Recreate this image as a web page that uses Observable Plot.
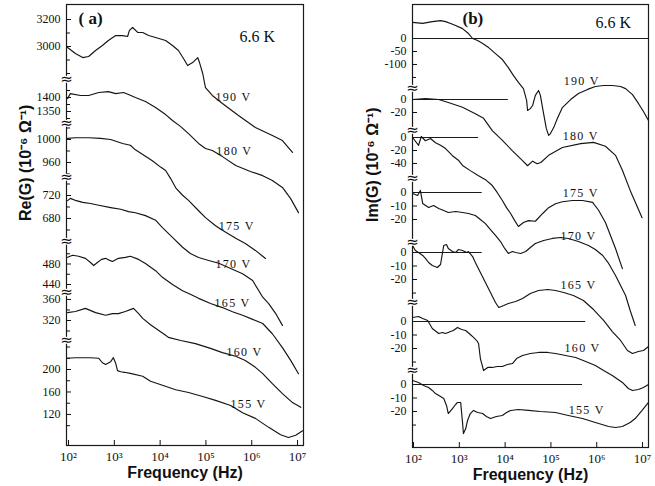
<!DOCTYPE html>
<html><head><meta charset="utf-8">
<script src="https://cdn.jsdelivr.net/npm/d3@7"></script>
<script src="https://cdn.jsdelivr.net/npm/@observablehq/plot@0.6"></script>
<style>
body{margin:0;background:#fff;}
#wrap{display:flex;width:655px;height:486px;overflow:hidden;}
.clab text{letter-spacing:1.3px;}
</style></head><body><div id="wrap"></div>
<script>
// ---- DATA: [log10(frequency in Hz), value in 1e-6 S] ----
const voltages = ["190 V","180 V","175 V","170 V","165 V","160 V","155 V"];
const decades = [2,3,4,5,6,7];

// Panel (a) Re(G)
const re190 = [[1.98,2993],[2.15,2948],[2.31,2918],[2.44,2926],[2.59,2970],[2.74,3007],[2.87,3044],[3.03,3081],[3.18,3081],[3.29,3074],[3.33,3119],[3.40,3141],[3.51,3104],[3.62,3104],[3.75,3081],[3.90,3067],[4.12,3044],[4.27,3007],[4.40,2970],[4.51,2911],[4.60,2859],[4.71,2881],[4.82,2918],[4.86,2881],[4.93,2800],[4.99,2696],[5.14,2637],[5.36,2578],[5.71,2489],[6.08,2400],[6.45,2341],[6.67,2303],[6.89,2215]];
const re180 = [[1.98,1396],[2.04,1414],[2.26,1407],[2.44,1407],[2.66,1418],[2.87,1421],[3.03,1414],[3.20,1418],[3.31,1411],[3.46,1400],[3.68,1386],[3.90,1364],[4.12,1339],[4.27,1318],[4.45,1296],[4.62,1271],[4.84,1236],[4.99,1218],[5.14,1211],[5.36,1189],[5.65,1157],[5.97,1136],[6.24,1121],[6.45,1104],[6.67,1079],[6.85,1039],[7.02,989]];
const re175 = [[1.98,1002],[2.15,1003],[2.44,1003],[2.70,1002],[2.92,1000],[3.18,993],[3.35,990],[3.46,982],[3.68,971],[3.83,963],[4.01,952],[4.12,946],[4.23,932],[4.34,916],[4.49,903],[4.62,894],[4.84,876],[4.99,864],[5.21,850],[5.36,842],[5.65,828],[5.86,819],[6.08,807],[6.30,793]];
const re170 = [[1.98,711],[2.04,715],[2.17,711],[2.31,708],[2.48,706],[2.66,703],[2.92,699],[3.14,696],[3.31,692],[3.46,690],[3.68,685],[3.90,677],[4.05,664],[4.27,647],[4.49,630],[4.66,619],[4.84,612],[5.06,607],[5.28,602],[5.54,593],[5.80,584],[6.02,572],[6.24,543],[6.37,532],[6.52,515],[6.67,494]];
const re165 = [[1.98,493],[2.09,497],[2.22,495],[2.37,491],[2.48,483],[2.55,477],[2.63,483],[2.72,489],[2.81,491],[2.90,487],[2.96,485],[3.09,491],[3.24,493],[3.35,495],[3.53,489],[3.68,481],[3.90,467],[4.05,454],[4.27,440],[4.49,428],[4.66,421],[4.84,413],[5.10,403],[5.36,395],[5.58,387],[5.80,380],[6.02,372],[6.24,364],[6.45,344],[6.67,317],[6.85,292],[7.02,266]];
const re160 = [[1.98,335],[2.15,337],[2.37,343],[2.59,335],[2.81,330],[2.96,333],[3.09,333],[3.24,337],[3.42,343],[3.53,333],[3.62,324],[3.79,312],[3.97,301],[4.12,292],[4.18,288],[4.45,282],[4.77,276],[5.10,267],[5.36,259],[5.65,252],[5.86,244],[6.08,231],[6.24,219],[6.45,200],[6.67,181],[6.89,164],[7.07,155]];
const re155 = [[1.98,220],[2.15,221],[2.31,221],[2.48,221],[2.66,220],[2.74,212],[2.81,209],[2.92,214],[2.98,221],[3.03,211],[3.07,198],[3.14,196],[3.22,195],[3.35,193],[3.62,188],[3.79,179],[4.05,172],[4.34,164],[4.62,159],[4.93,152],[5.21,145],[5.54,136],[5.80,123],[6.08,113],[6.37,97],[6.63,84],[6.80,79],[6.96,83],[7.11,91]];

// Panel (b) Im(G)
const im190 = [[1.98,62],[2.20,58],[2.41,65],[2.59,69],[2.70,65],[2.81,58],[2.92,50],[3.07,38],[3.20,19],[3.29,0],[3.40,-8],[3.51,-19],[3.64,-35],[3.79,-58],[3.94,-81],[4.07,-112],[4.18,-142],[4.29,-169],[4.40,-193],[4.47,-239],[4.49,-277],[4.55,-270],[4.60,-258],[4.66,-219],[4.73,-200],[4.77,-219],[4.84,-289],[4.90,-347],[4.95,-373],[4.99,-366],[5.06,-343],[5.14,-308],[5.25,-266],[5.43,-235],[5.60,-212],[5.80,-196],[5.97,-185],[6.15,-181],[6.34,-181],[6.52,-185],[6.63,-193],[6.78,-216],[6.91,-250],[7.02,-281],[7.13,-316]];
const im180 = [[1.98,0],[2.26,1.5],[2.55,0],[2.76,-4.6],[3.07,-12],[3.35,-22],[3.53,-29],[3.72,-48],[3.94,-63],[4.16,-79],[4.38,-94],[4.49,-102],[4.60,-95],[4.70,-99],[4.78,-97],[4.95,-86],[5.25,-74],[5.65,-68],[5.93,-66],[6.19,-72],[6.41,-86],[6.56,-109],[6.73,-140],[6.99,-182]];
const im175 = [[1.98,0],[2.11,-12],[2.17,1.5],[2.26,-5],[2.37,-1.5],[2.48,-8],[2.59,-12],[2.70,-17],[2.85,-28],[2.98,-35],[3.07,-43],[3.24,-51],[3.42,-59],[3.59,-66],[3.72,-74],[3.83,-85],[3.94,-97],[4.03,-108],[4.12,-117],[4.21,-128],[4.29,-137],[4.40,-131],[4.51,-128],[4.66,-129],[4.82,-117],[4.95,-108],[5.10,-102],[5.25,-99],[5.47,-97],[5.69,-97],[5.91,-100],[6.04,-112],[6.19,-131],[6.30,-151],[6.41,-171],[6.56,-202]];
const im170 = [[1.98,-0.7],[2.09,-2.2],[2.15,1.5],[2.20,-8.1],[2.33,-11.1],[2.44,-9.6],[2.55,-11.8],[2.66,-13.3],[2.76,-14.8],[2.92,-14.1],[3.07,-14.8],[3.20,-15.5],[3.35,-17],[3.46,-20],[3.57,-23],[3.68,-27.4],[3.79,-31.8],[3.90,-36.3],[3.99,-41.4],[4.07,-45.1],[4.16,-43.7],[4.23,-44.4],[4.34,-45.1],[4.45,-43.7],[4.55,-40.7],[4.66,-37.7],[4.84,-35.5],[5.03,-34],[5.21,-33.3],[5.38,-34],[5.60,-36.3],[5.82,-39.2],[5.97,-42.2],[6.13,-46.6],[6.26,-52.5],[6.41,-61.4],[6.52,-68.8],[6.63,-76.2],[6.73,-87.3],[6.84,-98.4]];
const im165 = [[1.98,5.2],[2.04,1.5],[2.11,0],[2.20,-2.2],[2.26,-4.4],[2.33,-7.4],[2.41,-9.6],[2.52,-11.1],[2.59,-8.9],[2.66,5.2],[2.72,5.9],[2.76,3],[2.85,0.7],[2.92,0],[2.98,2.2],[3.07,1.5],[3.16,0],[3.20,0.7],[3.29,-3],[3.35,-7.4],[3.46,-14.8],[3.57,-22.2],[3.68,-29.6],[3.79,-37],[3.86,-40.7],[3.97,-39.2],[4.07,-37.7],[4.23,-36.3],[4.38,-34],[4.55,-30.3],[4.73,-28.1],[4.93,-27.4],[5.10,-28.1],[5.28,-29.6],[5.49,-31.8],[5.71,-35.5],[5.93,-42.2],[6.15,-50.3],[6.34,-58.5],[6.52,-65.1],[6.67,-72.5],[6.78,-74.7],[6.91,-73.3],[7.02,-72.5],[7.13,-69.6]];
const im160 = [[1.98,3],[2.11,3.7],[2.20,2.2],[2.31,0.7],[2.41,-5.2],[2.55,-8.9],[2.63,-8.1],[2.70,-8.9],[2.81,-7.4],[2.87,-6.7],[2.96,-4.4],[3.05,-5.9],[3.14,-6.7],[3.24,-9.6],[3.31,-11.8],[3.38,-14.1],[3.42,-16.3],[3.46,-27.4],[3.53,-36.3],[3.62,-34],[3.72,-34],[3.83,-33.3],[3.94,-33.3],[4.05,-31.8],[4.16,-31.1],[4.25,-27.4],[4.38,-25.2],[4.55,-23.7],[4.73,-22.9],[4.93,-22.9],[5.10,-23.7],[5.32,-25.2],[5.54,-26.6],[5.76,-29.6],[5.97,-32.6],[6.15,-36.3],[6.34,-40],[6.56,-45.1],[6.69,-49.6],[6.78,-51.1],[6.91,-50.3],[7.02,-48.8],[7.13,-46.6]];
const im155 = [[1.98,3],[2.11,1.5],[2.22,-0.7],[2.33,-2.2],[2.41,-4.4],[2.48,-6.7],[2.59,-8.9],[2.66,-10.4],[2.72,-15.5],[2.76,-21.5],[2.85,-17.8],[2.92,-14.8],[2.96,-13.3],[3.03,-13.3],[3.07,-28.1],[3.09,-36.3],[3.14,-32.6],[3.18,-26.6],[3.24,-21.5],[3.31,-19.2],[3.40,-20.7],[3.51,-21.5],[3.59,-23.7],[3.68,-25.2],[3.81,-23.7],[3.94,-22.9],[4.03,-20.7],[4.12,-19.2],[4.29,-18.5],[4.51,-19.2],[4.77,-20],[5.10,-20.7],[5.38,-22.9],[5.69,-25.2],[5.97,-28.1],[6.26,-31.1],[6.41,-31.8],[6.56,-31.1],[6.73,-28.1],[6.84,-25.2],[6.99,-19.2],[7.13,-13.3]];

// Axis tick labels (value units of each stacked segment)
const reTickLabels = [[3200,3000],[1400,1350],[1000,960],[720,680],[480,440],[360,320],[200,160,120]];
const reMinorTicks = [[3100,2900,2800],[1425,1375,1325],[1020,980,940],[740,700,660],[500,460],[340,300],[240,220,180,140,100]];
const imTickLabels = [[0,-50,-100],[0,-20],[0,-20,-40],[0,-10,-20],[0,-10,-20],[0,-10,-20],[0,-10,-20]];
const imMinorTicks = [[-150],[],[],[],[-30],[-30],[-30]];
// zero reference lines in (b): log10 of the frequency where each ends
const imZeroEnds = [7.13,4.07,3.42,3.5,3.5,5.76,5.69];
// curve label anchors: [log10 f, value]
const reLabelAt = [[5.60,2622],[5.62,1207],[5.67,849],[5.60,600],[5.58,403],[5.84,259],[5.93,138]];
const imLabelAt = [[5.67,-166],[5.65,-57],[5.65,-86],[5.60,-32],[5.60,-24],[5.69,-20],[5.78,-19]];

// ---- LAYOUT (stacked, broken axes): [anchor value, anchor row, units per px] ----
const reMaps = [[3000,46,7.41],[1400,97,3.57],[1000,139,1.74],[720,195,1.74],[480,263.5,1.95],[320,320,1.9],[200,369,1.78]];
const imMaps = [[0,38,3.85],[0,99,1.54],[0,137,1.54],[0,192,0.74],[0,252,0.74],[0,321,0.74],[0,384,0.74]];
const reBreaks = [79,123,177,241,292,340];
const imBreaks = [88,130,178,242,302,370];

const SUP = {"2":"²","3":"³","4":"⁴","5":"⁵","6":"⁶","7":"⁷"};
const SERIF = "Liberation Serif, Times New Roman, serif";
const SANS = "Liberation Sans, Arial, sans-serif";

function makePanel(o) {
  const H = 486, mt = 4;
  const row = (i, v) => o.maps[i][1] - (v - o.maps[i][0]) / o.maps[i][2];
  const lineData = o.series.flatMap((pts, i) => pts.map(([lf, v]) => ({i, f: 10 ** lf, r: row(i, v)})));
  const major = o.tickLabels.flatMap((vals, i) => vals.map(v => ({r: row(i, v), t: String(v)})));
  const minor = o.minorTicks.flatMap((vals, i) => vals.map(v => row(i, v)));
  const fmt = new Map(major.map(d => [d.r, d.t]));
  const labels = o.labelAt.map(([lf, v], i) => ({f: 10 ** lf, r: row(i, v), t: voltages[i]}));
  const marks = [
    Plot.frame({stroke: "#1a1a1a", strokeWidth: 1.2}),
    Plot.axisX({ticks: decades.map(d => 10 ** d), tickFormat: d => "10" + SUP[Math.round(Math.log10(d))],
      tickSize: -5, tickPadding: 11, fontSize: 13, label: null}),
    Plot.axisY({ticks: major.map(d => d.r), tickFormat: r => fmt.get(r), tickSize: -5, tickPadding: 11, fontSize: 12, label: null}),
    Plot.axisY({ticks: minor, tickFormat: () => "", tickSize: -4, label: null})
  ];
  if (o.zeroEnds) {
    marks.push(Plot.ruleY(o.zeroEnds.map((e, i) => ({r: row(i, 0), e: 10 ** e})),
      {y: "r", x1: () => o.xDomain[0], x2: "e", stroke: "#1a1a1a", strokeWidth: 1}));
  }
  marks.push(
    Plot.line(lineData, {x: "f", y: "r", z: "i", stroke: "#141414", strokeWidth: 1.15}),
    Plot.text(o.breaks, {y: d => d, frameAnchor: "left", textAnchor: "middle", text: () => "≈", fontSize: 15, fontFamily: "DejaVu Sans",
      fill: "#111", stroke: "white", strokeWidth: 2.5, paintOrder: "stroke"}),
    Plot.text(labels, {x: "f", y: "r", text: "t", fontSize: 12, fontFamily: SERIF, fill: "#111", className: "clab"}),
    Plot.text([o.tag], {frameAnchor: "top-left", dx: o.tagDx, dy: 14, lineAnchor: "middle", textAnchor: "start",
      fontSize: 17, fontWeight: "bold", fontFamily: SERIF, fill: "#111"}),
    Plot.text(["6.6 K"], {frameAnchor: "top-left", dx: o.tempDx, dy: o.tempDy, lineAnchor: "middle", textAnchor: "start",
      fontSize: 16, fontFamily: SERIF, fill: "#111"}),
    Plot.text([o.yLabel], {frameAnchor: "left", dx: o.yLabelDx, dy: -4, rotate: -90, fontSize: 16, fontWeight: "bold",
      fontFamily: SANS, fill: "#111"}),
    Plot.text(["Frequency (Hz)"], {frameAnchor: "bottom", dy: o.xLabelDy, lineAnchor: "middle", fontSize: 16, fontWeight: "bold",
      fontFamily: SANS, fill: "#111"})
  );
  return Plot.plot({
    width: o.width, height: H, marginTop: mt, marginBottom: H - o.bottom,
    marginLeft: o.marginLeft, marginRight: o.marginRight,
    x: {type: "log", domain: o.xDomain},
    y: {domain: [o.bottom, mt]},
    style: {fontFamily: SERIF, color: "#111", background: "white", overflow: "visible"},
    marks
  });
}

const wrap = document.getElementById("wrap");
wrap.append(makePanel({
  series: [re190, re180, re175, re170, re165, re160, re155], maps: reMaps,
  tickLabels: reTickLabels, minorTicks: reMinorTicks, breaks: reBreaks, labelAt: reLabelAt,
  width: 327, marginLeft: 66, marginRight: 24, bottom: 445,
  xDomain: [10 ** 1.956, 10 ** 7.13], tag: "( a)", tagDx: 12, tempDx: 173, tempDy: 32,
  yLabel: "Re(G) (10⁻⁶ Ω⁻¹)", yLabelDx: -41, xLabelDy: 27
}));
wrap.append(makePanel({
  series: [im190, im180, im175, im170, im165, im160, im155], maps: imMaps,
  tickLabels: imTickLabels, minorTicks: imMinorTicks, breaks: imBreaks, labelAt: imLabelAt, zeroEnds: imZeroEnds,
  width: 328, marginLeft: 85, marginRight: 7, bottom: 447,
  xDomain: [10 ** 1.978, 10 ** 7.13], tag: "(b)", tagDx: 50, tempDx: 183, tempDy: 18,
  yLabel: "Im(G) (10⁻⁶ Ω⁻¹)", yLabelDx: -40, xLabelDy: 27
}));
</script></body></html>
